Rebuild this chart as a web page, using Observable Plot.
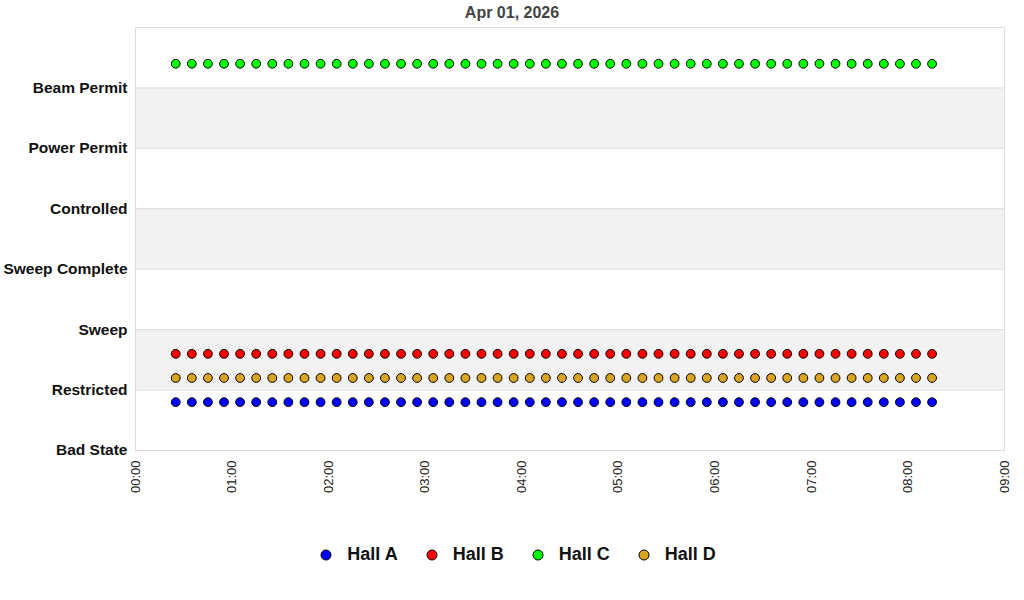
<!DOCTYPE html>
<html>
<head>
<meta charset="utf-8">
<script src="https://cdn.jsdelivr.net/npm/d3@7"></script>
<script src="https://cdn.jsdelivr.net/npm/@observablehq/plot@0.6"></script>
<style>
  body { margin: 0; background: #fff; font-family: "Liberation Sans", Arial, sans-serif; }
  #wrap { position: relative; width: 1024px; height: 600px; }
  #title { position: absolute; top: 3px; left: 0; width: 1024px; text-align: center; font-size: 16px; font-weight: bold; color: #444; line-height: 20px; }
  #chart { position: absolute; top: 0; left: 0; }
  #legend { position: absolute; top: 544px; left: 6px; width: 1024px; display: flex; justify-content: center; align-items: center; font-size: 18px; font-weight: bold; color: #111; }
  .item { display: flex; align-items: center; margin: 0 14px; }
  .item svg { margin-right: 15px; }
</style>
</head>
<body>
<div id="wrap">
  <div id="chart"></div>
  <div id="title">Apr 01, 2026</div>
  <div id="legend"></div>
</div>
<script>
const chartDay = "2026-04-01";
const times = ["00:25","00:35","00:45","00:55","01:05","01:15","01:25","01:35","01:45","01:55",
  "02:05","02:15","02:25","02:35","02:45","02:55","03:05","03:15","03:25","03:35",
  "03:45","03:55","04:05","04:15","04:25","04:35","04:45","04:55","05:05","05:15",
  "05:25","05:35","05:45","05:55","06:05","06:15","06:25","06:35","06:45","06:55",
  "07:05","07:15","07:25","07:35","07:45","07:55","08:05","08:15"];
const hallA = [0.8,0.8,0.8,0.8,0.8,0.8,0.8,0.8,0.8,0.8,0.8,0.8,0.8,0.8,0.8,0.8,0.8,0.8,0.8,0.8,0.8,0.8,0.8,0.8,
  0.8,0.8,0.8,0.8,0.8,0.8,0.8,0.8,0.8,0.8,0.8,0.8,0.8,0.8,0.8,0.8,0.8,0.8,0.8,0.8,0.8,0.8,0.8,0.8];
const hallB = [1.6,1.6,1.6,1.6,1.6,1.6,1.6,1.6,1.6,1.6,1.6,1.6,1.6,1.6,1.6,1.6,1.6,1.6,1.6,1.6,1.6,1.6,1.6,1.6,
  1.6,1.6,1.6,1.6,1.6,1.6,1.6,1.6,1.6,1.6,1.6,1.6,1.6,1.6,1.6,1.6,1.6,1.6,1.6,1.6,1.6,1.6,1.6,1.6];
const hallC = [6.4,6.4,6.4,6.4,6.4,6.4,6.4,6.4,6.4,6.4,6.4,6.4,6.4,6.4,6.4,6.4,6.4,6.4,6.4,6.4,6.4,6.4,6.4,6.4,
  6.4,6.4,6.4,6.4,6.4,6.4,6.4,6.4,6.4,6.4,6.4,6.4,6.4,6.4,6.4,6.4,6.4,6.4,6.4,6.4,6.4,6.4,6.4,6.4];
const hallD = [1.2,1.2,1.2,1.2,1.2,1.2,1.2,1.2,1.2,1.2,1.2,1.2,1.2,1.2,1.2,1.2,1.2,1.2,1.2,1.2,1.2,1.2,1.2,1.2,
  1.2,1.2,1.2,1.2,1.2,1.2,1.2,1.2,1.2,1.2,1.2,1.2,1.2,1.2,1.2,1.2,1.2,1.2,1.2,1.2,1.2,1.2,1.2,1.2];
const seriesNames = ["Hall A","Hall B","Hall C","Hall D"];
const seriesColors = ["#0000ff","#ff0000","#00ff00","#daa520"];
const stateLabels = ["Bad State","Restricted","Sweep","Sweep Complete","Controlled","Power Permit","Beam Permit"];
const stateTicks = [0,1,2,3,4,5,6];
const yDomain = [0,7];
const bandLow = [1,3,5];
const bandHigh = [2,4,6];
const hourTicks = ["00:00","01:00","02:00","03:00","04:00","05:00","06:00","07:00","08:00","09:00"];

const toDate = t => new Date(`${chartDay}T${t}:00`);
const seriesValues = [hallA, hallB, hallC, hallD];
const data = [];
seriesNames.forEach((name, s) => {
  times.forEach((t, i) => data.push({hall: name, time: toDate(t), value: seriesValues[s][i]}));
});
const bands = bandLow.map((lo, i) => ({lo, hi: bandHigh[i]}));
const xTicks = hourTicks.map(toDate);
const fmt = d3.timeFormat("%H:%M");

const chart = Plot.plot({
  width: 1024,
  height: 520,
  marginLeft: 135,
  marginRight: 20,
  marginTop: 27,
  marginBottom: 70,
  style: {fontFamily: "'Liberation Sans', Arial, sans-serif", background: "transparent", overflow: "visible"},
  x: {type: "time", domain: [xTicks[0], xTicks[xTicks.length - 1]]},
  y: {domain: yDomain},
  color: {domain: seriesNames, range: seriesColors},
  marks: [
    Plot.rect(bands, {y1: "lo", y2: "hi", fill: "#f2f2f2"}),
    Plot.gridY(stateTicks, {stroke: "#dddddd", strokeOpacity: 1}),
    Plot.frame({stroke: "#dddddd"}),
    Plot.axisY(stateTicks, {tickSize: 0, tickPadding: 8, fontSize: 15.5, fontWeight: "bold", fill: "#111", tickFormat: i => stateLabels[i], label: null}),
    Plot.axisX(xTicks, {tickSize: 0, tickPadding: 10, tickRotate: -90, fontSize: 13, fill: "#222", tickFormat: fmt, label: null}),
    Plot.dot(data, {x: "time", y: "value", fill: "hall", r: 4.4, stroke: "#000", strokeWidth: 1})
  ]
});
document.getElementById("chart").appendChild(chart);

const legend = document.getElementById("legend");
seriesNames.forEach((name, i) => {
  const item = document.createElement("div");
  item.className = "item";
  item.innerHTML = `<svg width="12" height="12"><circle cx="6" cy="6" r="5" fill="${seriesColors[i]}" stroke="#000" stroke-width="1"/></svg><span>${name}</span>`;
  legend.appendChild(item);
});
</script>
</body>
</html>
